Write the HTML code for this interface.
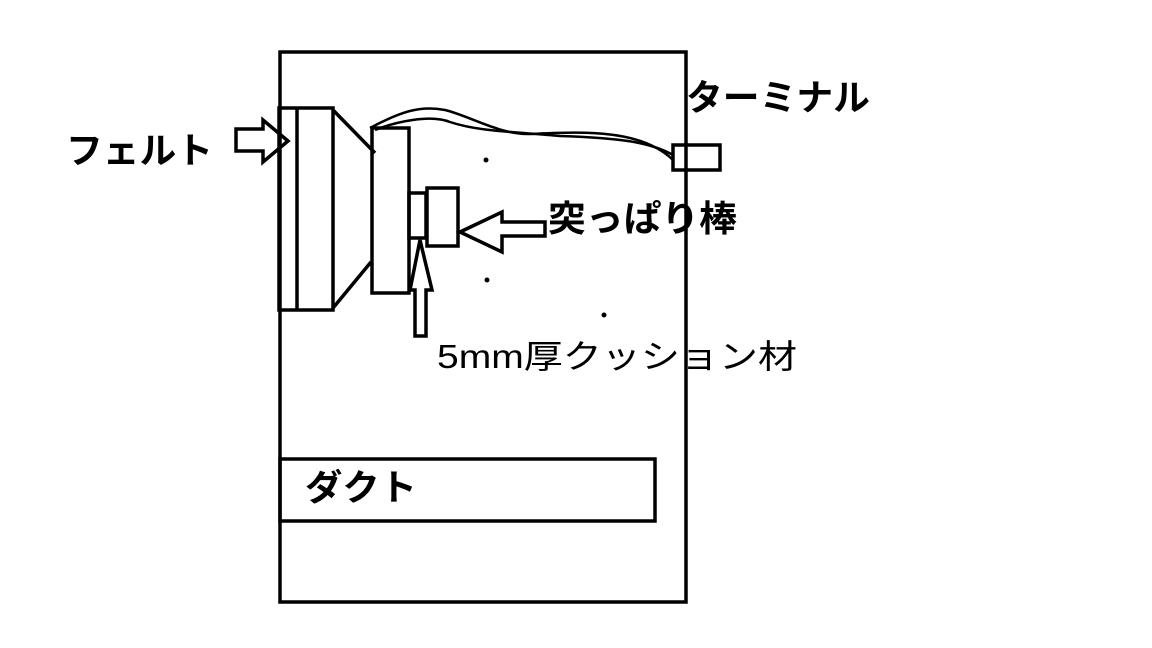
<!DOCTYPE html>
<html><head><meta charset="utf-8"><style>
html,body{margin:0;padding:0;background:#fff;}
svg{display:block;}
text{font-family:"Liberation Sans","Noto Sans CJK JP",sans-serif;fill:#000;}
</style></head><body>
<svg width="1152" height="648" viewBox="0 0 1152 648" xmlns="http://www.w3.org/2000/svg">
<g fill="none" stroke="#000" stroke-width="3.5">
<rect x="280" y="52" width="406" height="550"/>
<rect x="280" y="459" width="375" height="62"/>
<rect x="279" y="108" width="54" height="202"/>
<line x1="297" y1="108" x2="297" y2="310"/>
<line x1="333" y1="110" x2="375" y2="153"/>
<line x1="333" y1="308" x2="371" y2="262"/>
<rect x="372" y="128" width="37" height="165"/>
<rect x="409" y="193" width="17" height="45"/>
<rect x="427" y="188" width="31" height="58"/>
<rect x="673" y="145" width="47" height="25"/>
<polygon points="460,232 502,212 502,222 545,222 545,236 502,236 502,252"/>
<polygon points="420,240 432,290 426,290 426,336 415,336 415,290 410,290"/>
<polygon points="288,141 263,120 263,129 236,129 236,151 263,151 263,162"/>
<path d="M370 128 C 400 112, 420 105, 445 110 C 470 116, 500 135, 530 134 C 580 132, 640 128, 673 160" stroke-width="2.5"/>
<path d="M375 130 C 395 122, 430 114, 450 122 C 480 132, 520 132, 560 136 C 620 138, 650 142, 673 155" stroke-width="2.5"/>
</g>
<circle cx="486" cy="160" r="2.5"/>
<circle cx="487" cy="280" r="2.5"/>
<circle cx="604" cy="315" r="2.5"/>
<text x="66" y="163" font-size="36" font-weight="bold" textLength="147" lengthAdjust="spacingAndGlyphs">フェルト</text>
<text x="686" y="110" font-size="36" font-weight="bold" textLength="184" lengthAdjust="spacingAndGlyphs">ターミナル</text>
<text x="548" y="231" font-size="36" font-weight="bold" textLength="189" lengthAdjust="spacingAndGlyphs">突っぱり棒</text>
<text x="437" y="368" font-size="33" textLength="360" lengthAdjust="spacingAndGlyphs">5mm厚クッション材</text>
<text x="305" y="500" font-size="36" font-weight="bold" textLength="112" lengthAdjust="spacingAndGlyphs">ダクト</text>
</svg>
</body></html>
